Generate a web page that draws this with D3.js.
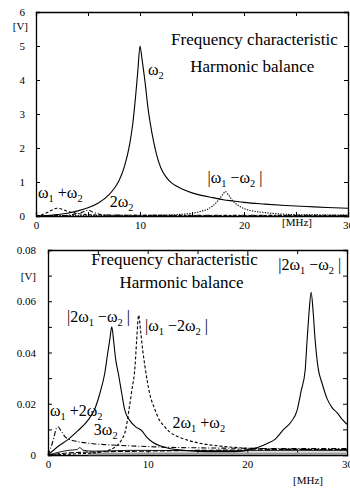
<!DOCTYPE html>
<html>
<head>
<meta charset="utf-8">
<script src="https://cdn.jsdelivr.net/npm/d3@7"></script>
<style>
  body { margin: 0; background: #fff; }
  svg { display: block; }
  text { font-family: "Liberation Serif", "Times New Roman", serif; fill: #000; }
</style>
</head>
<body>
<svg id="chart" width="350" height="488"></svg>
<script>
// ---- top panel: output voltage [V] vs frequency [MHz]
const topW2 = [[0,0],[1,0.01],[2,0.04],[3,0.08],[4,0.15],[5,0.24],[6,0.38],[7,0.62],[7.5,0.8],[8,1.05],[8.5,1.45],[9,2.1],[9.3,2.7],[9.6,3.6],[9.8,4.3],[10,5.0],[10.2,4.6],[10.5,3.9],[10.8,3.1],[11,2.7],[11.3,2.2],[11.6,1.8],[12,1.42],[12.5,1.15],[13,0.98],[13.5,0.88],[14,0.8],[15,0.68],[16,0.6],[17,0.54],[18,0.48],[19,0.44],[20,0.4],[22,0.35],[24,0.31],[26,0.28],[28,0.25],[30,0.23]];
const topW1mW2 = [[0,0.01],[5,0.01],[10,0.015],[12,0.02],[13,0.03],[14,0.05],[15,0.08],[16,0.15],[16.5,0.2],[17,0.3],[17.5,0.45],[18,0.65],[18.2,0.72],[18.5,0.62],[19,0.42],[19.5,0.3],[20,0.22],[21,0.14],[22,0.1],[23,0.07],[24,0.05],[26,0.035],[28,0.03],[30,0.025]];
const topW1pW2 = [[0,0],[0.5,0.03],[1,0.09],[1.5,0.17],[2,0.23],[2.5,0.2],[3,0.14],[3.5,0.1],[4,0.07],[5,0.04],[6,0.03],[8,0.02],[10,0.02],[15,0.015],[20,0.015],[30,0.015]];
const top2W2 = [[0,0],[2,0.005],[3,0.02],[3.5,0.04],[4,0.07],[4.5,0.12],[5,0.17],[5.5,0.11],[6,0.06],[6.5,0.04],[7,0.03],[8,0.025],[10,0.02],[15,0.02],[20,0.02],[30,0.02]];

// ---- bottom panel
const bot2W1mW2 = [[0,0],[1,0.0033],[2,0.006],[3,0.0095],[4,0.0135],[4.7,0.018],[5.2,0.024],[5.7,0.032],[6.0,0.04],[6.2,0.045],[6.4,0.05],[6.6,0.044],[6.8,0.037],[7.05,0.032],[7.4,0.024],[7.7,0.0176],[8.2,0.0135],[8.8,0.011],[9.4,0.0095],[9.9,0.007],[10.5,0.005],[11.4,0.0034],[12,0.0027],[14,0.0017],[16,0.0013],[18,0.0013],[19.5,0.0015],[20.5,0.0024],[21.3,0.0033],[22,0.0045],[22.8,0.0062],[23.6,0.0098],[24.4,0.013],[25,0.0175],[25.4,0.025],[25.8,0.033],[26,0.045],[26.2,0.056],[26.4,0.0635],[26.6,0.056],[26.8,0.045],[27.1,0.034],[27.5,0.028],[28,0.022],[28.5,0.0185],[29,0.0165],[29.5,0.014],[30,0.012]];
const botW1m2W2 = [[0,0],[3,0.0005],[5,0.001],[6.2,0.002],[7,0.004],[7.4,0.006],[7.8,0.01],[8.1,0.017],[8.4,0.025],[8.73,0.0345],[8.9,0.045],[9.1,0.0546],[9.3,0.048],[9.5,0.041],[9.73,0.0345],[10.2,0.024],[10.7,0.018],[11.2,0.0135],[11.6,0.0115],[12.2,0.009],[13,0.0072],[14,0.0058],[15.2,0.0046],[17,0.0036],[20.3,0.0026],[25,0.0022],[30,0.002]];
const botW1p2W2 = [[0,0],[0.3,0.003],[0.6,0.007],[0.85,0.0105],[1.0,0.011],[1.3,0.0095],[1.7,0.0072],[2.2,0.006],[3,0.0052],[4.5,0.0044],[6.4,0.0039],[8,0.0036],[10,0.0033],[12,0.003],[15,0.0028],[20,0.0026],[25,0.0025],[30,0.0025]];
const bot3W2 = [[0,0],[1,0.001],[2,0.0018],[2.9,0.0021],[3.2,0.0029],[3.5,0.0019],[4.5,0.0015],[6,0.0016],[8,0.0018],[10,0.0018],[15,0.0017],[20,0.0017],[30,0.0017]];
const bot2W1pW2 = [[0,0],[2,0.0008],[5,0.0012],[10,0.0015],[15,0.0018],[20,0.002],[25,0.0022],[30,0.0022]];
const botFloor = [[4,0.0004],[10,0.0005],[20,0.0005],[30,0.0005]];

// tick values and labels
const xTicks = [0, 5, 10, 15, 20, 25, 30];
const xLabelTicks = [0, 10, 20, 30];
const topYTicks = [0, 1, 2, 3, 4, 5, 6];
const botYTicks = [0, 0.01, 0.02, 0.03, 0.04, 0.05, 0.06, 0.07, 0.08];
const botYLabelTicks = [0, 0.02, 0.04, 0.06, 0.08];

// curve labels, "_" marks a subscript character
const titleLines = ["Frequency characteristic", "Harmonic balance"];
const lblW2 = "ω_2";
const lblW1pW2 = "ω_1 +ω_2";
const lbl2W2 = "2ω_2";
const lblW1mW2 = "|ω_1 −ω_2 |";
const lbl2W1mW2 = "|2ω_1 −ω_2 |";
const lblW1m2W2 = "|ω_1 −2ω_2 |";
const lblW1p2W2 = "ω_1 +2ω_2";
const lbl3W2 = "3ω_2";
const lbl2W1pW2 = "2ω_1 +ω_2";

const serif = '"Liberation Serif","Times New Roman",serif';
const svg = d3.select("#chart");

function richText(g, x, y, str, size, anchor) {
  const t = g.append("text").attr("x", x).attr("y", y)
    .attr("font-family", serif)
    .attr("font-size", size).attr("text-anchor", anchor || "start");
  let shift = 0;
  for (let i = 0; i < str.length; i++) {
    if (str[i] === "_") {
      t.append("tspan").attr("dy", 4 - shift).attr("font-size", size * 0.65).text(str[i + 1]);
      shift = 4;
      i++;
    } else {
      let j = i;
      while (j < str.length && str[j] !== "_") j++;
      t.append("tspan").attr("dy", -shift).text(str.slice(i, j));
      shift = 0;
      i = j - 1;
    }
  }
  return t;
}

function plainText(g, x, y, str, size, anchor) {
  return g.append("text").attr("x", x).attr("y", y)
    .attr("font-family", serif).attr("font-size", size)
    .attr("text-anchor", anchor || "middle").text(str);
}

function panel(box, yMax, yTicks, yLabelTicks, yFmt) {
  const x = d3.scaleLinear().domain([0, 30]).range([box.left, box.right]);
  const y = d3.scaleLinear().domain([0, yMax]).range([box.bottom, box.top]);
  const g = svg.append("g");

  const tickLab = (vals, fmt) => d => vals.includes(d) ? fmt(d) : "";

  g.append("g").attr("transform", `translate(0,${box.bottom})`)
    .call(d3.axisBottom(x).tickValues(xTicks).tickSize(-4).tickPadding(box.xPad)
      .tickFormat(tickLab(xLabelTicks, d3.format("d"))));
  g.append("g").attr("transform", `translate(0,${box.top})`)
    .call(d3.axisTop(x).tickValues(xTicks).tickSize(-4).tickFormat(""));
  g.append("g").attr("transform", `translate(${box.left},0)`)
    .call(d3.axisLeft(y).tickValues(yTicks).tickSize(-4).tickPadding(box.yPad)
      .tickFormat(tickLab(yLabelTicks, yFmt)));
  g.append("g").attr("transform", `translate(${box.right},0)`)
    .call(d3.axisRight(y).tickValues(yTicks).tickSize(-4).tickFormat(""));

  g.selectAll("g").attr("font-family", serif);
  g.selectAll(".domain").attr("stroke", "#000").attr("stroke-width", 1.3);
  g.selectAll(".tick line").attr("stroke", "#000");
  g.selectAll(".tick text").attr("font-size", 11).attr("font-family", serif);

  const line = d3.line().x(d => x(d[0])).y(d => y(d[1])).curve(d3.curveMonotoneX);
  const draw = (data, dash, color, width) => g.append("path").datum(data)
    .attr("d", line).attr("fill", "none").attr("stroke", color || "#000")
    .attr("stroke-width", width || 1.1).attr("stroke-dasharray", dash || null);

  return { x, y, g, draw };
}

// ---- top panel
const A = panel({ left: 36, right: 348, top: 12, bottom: 216, xPad: 5, yPad: 11 }, 6,
  topYTicks, topYTicks, d3.format("d"));
A.draw(top2W2, "4,2,1,2");
A.draw(topW1pW2, "3,2");
A.draw(topW1mW2, "1.3,1.3");
A.draw(topW2, null);

plainText(A.g, 28, 30, "[V]", 11, "end");
plainText(A.g, 297, 226, "[MHz]", 11);
plainText(A.g, A.x(21), A.y(5.03), titleLines[0], 17);
plainText(A.g, A.x(20.8), A.y(4.24), titleLines[1], 17);
richText(A.g, A.x(10.77), A.y(4.15), lblW2, 16);
richText(A.g, A.x(0.2), A.y(0.53), lblW1pW2, 16);
richText(A.g, A.x(7.1), A.y(0.26), lbl2W2, 16);
richText(A.g, A.x(16.5), A.y(0.97), lblW1mW2, 16);

// ---- bottom panel
const B = panel({ left: 48, right: 347, top: 250, bottom: 455, xPad: 5, yPad: 12 }, 0.08,
  botYTicks, botYLabelTicks, d => d === 0 ? "0" : d3.format(".2f")(d));
B.draw(botFloor, null, "#999", 2.5);
B.draw(bot2W1pW2, "5,2");
B.draw(bot3W2, null, "#000", 0.9);
B.draw(botW1p2W2, "5,2,1,2");
B.draw(botW1m2W2, "3,2");
B.draw(bot2W1mW2, null);

plainText(B.g, 36, 280, "[V]", 11, "end");
plainText(B.g, 308, 484, "[MHz]", 11);
plainText(B.g, B.x(12.7), B.y(0.0741), titleLines[0], 17);
plainText(B.g, B.x(13.4), B.y(0.0652), titleLines[1], 17);
richText(B.g, B.x(23.1), B.y(0.0722), lbl2W1mW2, 16);
richText(B.g, B.x(1.9), B.y(0.0519), lbl2W1mW2, 16);
richText(B.g, B.x(9.73), B.y(0.0484), lblW1m2W2, 16);
richText(B.g, B.x(0.2), B.y(0.0152), lblW1p2W2, 16);
richText(B.g, B.x(4.6), B.y(0.0080), lbl3W2, 16);
richText(B.g, B.x(12.5), B.y(0.0105), lbl2W1pW2, 16);
</script>
</body>
</html>
